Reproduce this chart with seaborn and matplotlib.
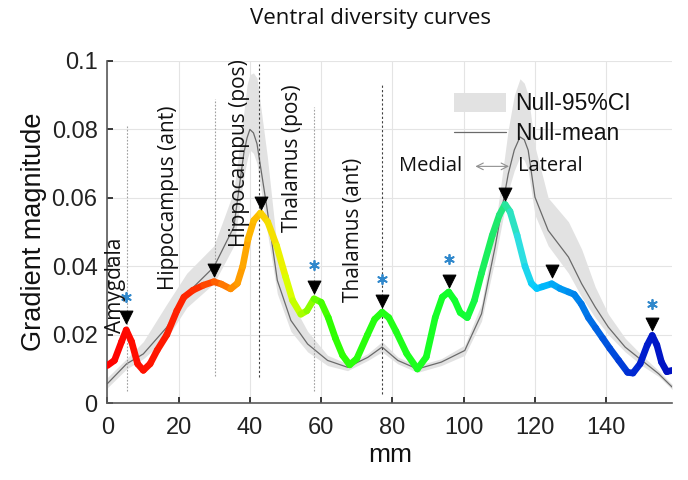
import numpy as np
import seaborn as sns
import matplotlib
matplotlib.use("Agg")
import matplotlib.pyplot as plt
from matplotlib.collections import LineCollection
from matplotlib.colors import LinearSegmentedColormap

# observed diversity curve (mm, gradient magnitude)
x_curve = [0, 2, 4, 5.3, 6.8, 8.5, 10.1, 12, 14, 16.7, 19.5, 21.5, 24, 27, 29.9, 32, 34.6, 36.5,
           38, 39.5, 41.1, 43, 45, 47.5, 50, 52, 54.3, 56, 58, 60, 62, 64, 66, 68, 70, 73, 75,
           77.1, 79, 81, 84, 87, 89.5, 92, 94, 95.8, 97.5, 99, 101, 103, 105, 108, 110, 111.6,
           113, 115, 117.2, 119, 120.5, 122, 124.7, 127, 129.4, 131, 133, 135, 137, 139, 141,
           143.5, 146, 147.5, 149.5, 151.5, 152.9, 154.2, 155.5, 157, 158.5]
y_curve = [0.0110, 0.0125, 0.0180, 0.0214, 0.0180, 0.0115, 0.0096, 0.0115, 0.0155, 0.0200,
           0.0270, 0.0310, 0.0330, 0.0345, 0.0355, 0.0348, 0.0334, 0.0350, 0.0400, 0.0480,
           0.0534, 0.0556, 0.0530, 0.0460, 0.0370, 0.0300, 0.0260, 0.0270, 0.0305, 0.0295,
           0.0250, 0.0190, 0.0140, 0.0112, 0.0130, 0.0200, 0.0245, 0.0266, 0.0250, 0.0210,
           0.0145, 0.0100, 0.0135, 0.0250, 0.0310, 0.0325, 0.0300, 0.0265, 0.0250, 0.0300,
           0.0380, 0.0490, 0.0550, 0.0581, 0.0560, 0.0490, 0.0400, 0.0350, 0.0335, 0.0340,
           0.0349, 0.0335, 0.0325, 0.0318, 0.0290, 0.0250, 0.0220, 0.0190, 0.0160, 0.0125,
           0.0090, 0.0088, 0.0115, 0.0170, 0.0198, 0.0170, 0.0120, 0.0092, 0.0096]

# null distribution
x_null = [0, 5.4, 10.1, 16.7, 22.3, 29.9, 35.5, 38.3, 39.2, 40, 41, 42, 44.9, 47.7, 51.5, 56.2,
          61.8, 67.4, 73.1, 77.1, 81.5, 87, 93.7, 100.3, 105, 108.8, 112.5, 114.2, 115.8, 117,
          118.1, 120, 123.7, 129.4, 133.1, 136.9, 140.6, 145.3, 150, 154.7, 158.5]
null_mean = [0.0057, 0.0115, 0.0144, 0.0222, 0.0320, 0.0398, 0.0515, 0.0730, 0.0775, 0.0800,
             0.0790, 0.0758, 0.0563, 0.0359, 0.0242, 0.0173, 0.0125, 0.0105, 0.0134, 0.0164,
             0.0125, 0.0100, 0.0120, 0.0154, 0.0261, 0.0456, 0.0670, 0.0740, 0.0778, 0.0770,
             0.0739, 0.0602, 0.0505, 0.0427, 0.0349, 0.0281, 0.0222, 0.0164, 0.0125, 0.0086,
             0.0047]
ci_high = [0.0075, 0.0130, 0.0180, 0.0290, 0.0380, 0.0460, 0.0620, 0.0850, 0.0930, 0.0960,
           0.0965, 0.0950, 0.0720, 0.0450, 0.0300, 0.0210, 0.0140, 0.0115, 0.0145, 0.0180,
           0.0135, 0.0110, 0.0130, 0.0170, 0.0290, 0.0510, 0.0800, 0.0900, 0.0948, 0.0935,
           0.0900, 0.0750, 0.0600, 0.0530, 0.0450, 0.0340, 0.0260, 0.0190, 0.0140, 0.0095,
           0.0055]
ci_low = [0.0045, 0.0100, 0.0130, 0.0190, 0.0280, 0.0350, 0.0460, 0.0660, 0.0710, 0.0740,
          0.0730, 0.0700, 0.0500, 0.0320, 0.0210, 0.0150, 0.0110, 0.0095, 0.0125, 0.0150,
          0.0115, 0.0090, 0.0110, 0.0140, 0.0240, 0.0420, 0.0620, 0.0680, 0.0720, 0.0710,
          0.0680, 0.0550, 0.0460, 0.0380, 0.0310, 0.0250, 0.0200, 0.0150, 0.0110, 0.0078,
          0.0040]

# detected peaks
peak_x = [5.3, 29.9, 43, 58, 77.1, 95.8, 111.6, 124.7, 152.9]
peak_y = [0.0252, 0.0388, 0.0585, 0.0339, 0.0300, 0.0357, 0.0612, 0.0385, 0.0232]
sig_x = [5.3, 58, 77.1, 95.8, 152.9]
sig_y = [0.0310, 0.0403, 0.0362, 0.0420, 0.0290]

# region boundaries
bound_x = [5.4, 30.1, 42.5, 58, 77.1]
bound_top = [0.081, 0.089, 0.099, 0.0866, 0.0934]
bound_bot = [0.0037, 0.008, 0.0076, 0.0037, 0.0027]
bound_dark = [False, False, True, False, True]
regions = ["Amygdala", "Hippocampus (ant)", "Hippocampus (pos)", "Thalamus (pos)", "Thalamus (ant)"]
region_x = [2.2, 17.1, 37.2, 52.0, 69.0]
region_y = [0.0205, 0.0330, 0.0456, 0.0500, 0.0295]

x_ticks = [0, 20, 40, 60, 80, 100, 120, 140]
y_ticks = [0, 0.02, 0.04, 0.06, 0.08, 0.1]
y_ticklabels = ["0", "0.02", "0.04", "0.06", "0.08", "0.1"]

# colour along the curve
col_pos = [0, 25, 35, 43, 50, 56, 62, 100, 110, 116, 121, 130, 140, 150, 158.5]
col_val = ["#ff0000", "#ff2a00", "#ff8c00", "#ffc800", "#e6ff00", "#a0ff00", "#30ff00",
           "#10ff30", "#20e870", "#30e0e0", "#00c8ff", "#0090f0", "#0058e0", "#0020d0", "#0010c0"]

sns.set_theme(style="whitegrid")
plt.rcParams['font.family'] = ['Liberation Sans', 'DejaVu Sans']
label_font = ["Open Sans", "DejaVu Sans"]

fig = plt.figure(figsize=(6.88, 4.8), dpi=100)
ax = fig.add_axes([0.156, 0.16, 0.821, 0.713])
ax.set_facecolor("white")

ax.fill_between(x_null, ci_low, ci_high, color="#e2e2e2", lw=0, label="Null-95%CI", zorder=1)
sns.lineplot(x=x_null, y=null_mean, ax=ax, color="#6a6a6a", lw=0.9, label="Null-mean", zorder=2)

for bx, bt, bb, dk in zip(bound_x, bound_top, bound_bot, bound_dark):
    if dk:
        ax.vlines(bx, bb, bt, colors="#404040", linestyles=(0, (2, 2)), lw=0.8, zorder=2)
    else:
        ax.vlines(bx, bb, bt, colors="#a0a0a0", linestyles=(0, (1.5, 1.5)), lw=0.8, zorder=2)

cmap = LinearSegmentedColormap.from_list(
    "curve", [(p / col_pos[-1], c) for p, c in zip(col_pos, col_val)])
pts = np.column_stack([x_curve, y_curve])
segs = np.stack([pts[:-1], pts[1:]], axis=1)
mids = (pts[:-1, 0] + pts[1:, 0]) / 2 / col_pos[-1]
lc = LineCollection(segs, colors=cmap(mids), linewidths=4.8, capstyle="round",
                    joinstyle="round", zorder=3)
ax.add_collection(lc)

sns.scatterplot(x=peak_x, y=peak_y, ax=ax, marker="v", color="black", s=85,
                edgecolor="black", zorder=4, legend=False)
ax.scatter(sig_x, sig_y, marker=(6, 2, 0), color="#3088cc", s=45, lw=1.3, zorder=4)

for name, rx, ry in zip(regions, region_x, region_y):
    ax.text(rx, ry, name, rotation=90, ha="center", va="bottom", fontsize=15,
            family=label_font, color="#111111", zorder=5)

ax.text(99.5, 0.0692, "Medial", ha="right", va="center", fontsize=14.5,
        family=label_font, color="#111111")
ax.annotate("", xy=(113.5, 0.0692), xytext=(102.5, 0.0692),
            arrowprops=dict(arrowstyle="<->", color="#909090", lw=0.8))
ax.text(115.2, 0.0692, "Lateral", ha="left", va="center", fontsize=14.5,
        family=label_font, color="#111111")

leg = ax.legend(loc="upper left", bbox_to_anchor=(0.597, 0.935), frameon=False, fontsize=16.5,
                handlelength=2.3, handleheight=0.9, handletextpad=0.4, labelspacing=0.3,
                borderaxespad=0)
for t in leg.get_texts():
    t.set_color("#111111")

ax.set_xlim(0, 158.5)
ax.set_ylim(0, 0.1)
ax.set_xticks(x_ticks)
ax.set_yticks(y_ticks)
ax.set_yticklabels(y_ticklabels)
ax.tick_params(axis="both", labelsize=17, colors="#222222", direction="in", length=4,
               bottom=True, left=True)
ax.tick_params(axis="x", pad=10)
ax.tick_params(axis="y", pad=7)
ax.grid(True, color="#e4e4e4", lw=0.8)
for side in ["top", "right"]:
    ax.spines[side].set_visible(False)
for side in ["left", "bottom"]:
    ax.spines[side].set_color("#5a5a5a")
    ax.spines[side].set_linewidth(1.2)

ax.set_xlabel("mm", fontsize=19, color="#111111", labelpad=3)
ax.set_ylabel("Gradient magnitude", fontsize=19.5, color="#111111", labelpad=3)
fig.text(0.538, 0.962, "Ventral diversity curves", ha="center", va="center", fontsize=16,
         family=label_font, color="#111111")

fig.savefig("out.png", dpi=100)
